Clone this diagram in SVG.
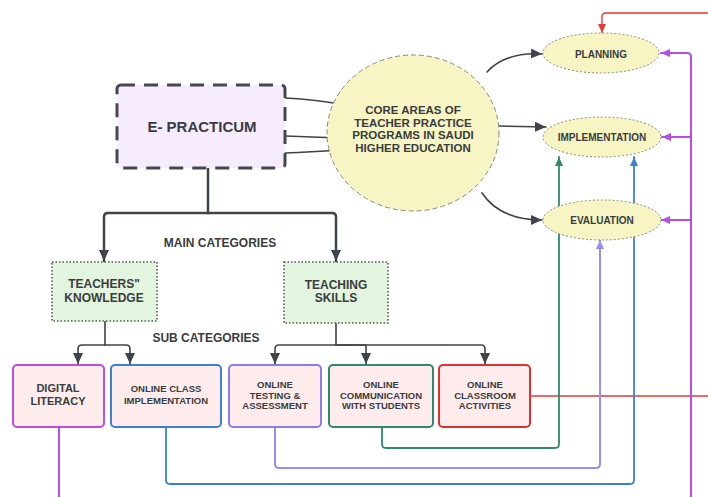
<svg xmlns="http://www.w3.org/2000/svg" width="708" height="497" viewBox="0 0 708 497">
<style>
text{font-family:"Liberation Sans","DejaVu Sans",sans-serif;font-weight:bold;fill:#3a3c40;text-anchor:middle;dominant-baseline:central}
.c{fill:none;stroke-linejoin:round;stroke-linecap:round}
.dk{stroke:#3f434a;stroke-width:2.5}
.dk2{stroke:#3f434a;stroke-width:1.6}
.red{stroke:#e53935;stroke-width:1.4}
.pur{stroke:#b44ee6;stroke-width:2}
.teal{stroke:#2e8a6e;stroke-width:1.8}
.blue{stroke:#3b7fd8;stroke-width:1.8}
.lav{stroke:#9a8cf5;stroke-width:2}
.sub{fill:#fdeceb;stroke-width:2}
.ell{fill:#f7f5c3;stroke:#8a8a7a;stroke-width:1;stroke-dasharray:2 2}
.grn{fill:#e3f4df;stroke:#555;stroke-width:1.6;stroke-dasharray:1.5 2}
.t9{font-size:9.5px}
.t10{font-size:10px}
.t11{font-size:11px}
.t12{font-size:12px}
.core{font-size:11.5px}
</style>
<defs>
<marker id="aD" markerUnits="userSpaceOnUse" markerWidth="12" markerHeight="12" viewBox="0 0 12 12" refX="11" refY="6" orient="auto"><path d="M0,1 L11,6 L0,11 Z" fill="#3f434a"/></marker>
<marker id="aR" markerUnits="userSpaceOnUse" markerWidth="10" markerHeight="10" viewBox="0 0 10 10" refX="9" refY="5" orient="auto"><path d="M0,1 L9,5 L0,9 Z" fill="#e53935"/></marker>
<marker id="aP" markerUnits="userSpaceOnUse" markerWidth="10" markerHeight="10" viewBox="0 0 10 10" refX="9" refY="5" orient="auto"><path d="M0,1 L9,5 L0,9 Z" fill="#b44ee6"/></marker>
<marker id="aT" markerUnits="userSpaceOnUse" markerWidth="10" markerHeight="10" viewBox="0 0 10 10" refX="9" refY="5" orient="auto"><path d="M0,1 L9,5 L0,9 Z" fill="#2e8a6e"/></marker>
<marker id="aB" markerUnits="userSpaceOnUse" markerWidth="10" markerHeight="10" viewBox="0 0 10 10" refX="9" refY="5" orient="auto"><path d="M0,1 L9,5 L0,9 Z" fill="#3b7fd8"/></marker>
<marker id="aL" markerUnits="userSpaceOnUse" markerWidth="10" markerHeight="10" viewBox="0 0 10 10" refX="9" refY="5" orient="auto"><path d="M0,1 L9,5 L0,9 Z" fill="#9a8cf5"/></marker>
</defs>
<rect width="708" height="497" fill="#ffffff"/>

<g id="connectors">
<path class="c dk2" d="M285,98 Q310,99 340,104"/>
<path class="c dk2" d="M285,136 L340,138"/>
<path class="c dk2" d="M285,153 Q310,152 340,150"/>
<path class="c dk2" d="M487,72 Q505,52 542,54" marker-end="url(#aD)"/>
<path class="c dk2" d="M499,126 L546,127" marker-end="url(#aD)"/>
<path class="c dk2" d="M482,193 Q500,220 542,220" marker-end="url(#aD)"/>
<path class="c dk" d="M208,168 V213"/>
<path class="c dk" d="M208,213 H108 Q104,213 104,217 V261" marker-end="url(#aD)"/>
<path class="c dk" d="M208,213 H332 Q336,213 336,217 V261" marker-end="url(#aD)"/>
<path class="c dk2" d="M105,321 V345"/>
<path class="c dk2" d="M105,345 H82 Q78,345 78,349 V364" marker-end="url(#aD)"/>
<path class="c dk2" d="M105,345 H126 Q130,345 130,349 V364" marker-end="url(#aD)"/>
<path class="c dk2" d="M336,323 V345"/>
<path class="c dk2" d="M336,345 H279 Q275,345 275,349 V364" marker-end="url(#aD)"/>
<path class="c dk2" d="M336,345 H366 V364" marker-end="url(#aD)"/>
<path class="c dk2" d="M336,345 H481 Q485,345 485,349 V364" marker-end="url(#aD)"/>
<path class="c red" d="M708,13 H606 Q602,13 602,17 V33" marker-end="url(#aR)"/>
<path class="c red" d="M530,396 H708"/>
<path class="c pur" d="M691,497 V57 Q691,53 687,53 H661" marker-end="url(#aP)"/>
<path class="c pur" d="M691,137 H662" marker-end="url(#aP)"/>
<path class="c pur" d="M691,220 H661" marker-end="url(#aP)"/>
<path class="c pur" d="M59,427 V497"/>
<path class="c teal" d="M382,427 V444 Q382,448 386,448 H555 Q559,448 559,444 V157" marker-end="url(#aT)"/>
<path class="c blue" d="M166,427 V480 Q166,484 170,484 H630 Q634,484 634,480 V157" marker-end="url(#aB)"/>
<path class="c lav" d="M275,427 V464 Q275,468 279,468 H596 Q600,468 600,464 V240" marker-end="url(#aL)"/>
</g>

<g id="e-practicum">
<rect x="117" y="85" width="168" height="83" rx="4" fill="#f6ecfd" stroke="#45484e" stroke-width="3" stroke-dasharray="14 9"/>
<text x="202" y="126" style="font-size:15px">E- PRACTICUM</text>
</g>

<g id="core-areas">
<ellipse cx="413" cy="133" rx="86" ry="78" class="ell" style="stroke-dasharray:5 3"/>
<text x="413" y="110" class="core">CORE AREAS OF</text>
<text x="413" y="122.5" class="core">TEACHER PRACTICE</text>
<text x="413" y="135" class="core">PROGRAMS IN SAUDI</text>
<text x="413" y="147.5" class="core">HIGHER EDUCATION</text>
</g>

<g id="planning">
<ellipse cx="601" cy="53" rx="58" ry="20" class="ell"/>
<text x="601" y="54" class="t10">PLANNING</text>
</g>
<g id="implementation">
<ellipse cx="602" cy="137" rx="59" ry="20" class="ell"/>
<text x="602" y="137" class="t10">IMPLEMENTATION</text>
</g>
<g id="evaluation">
<ellipse cx="602" cy="220" rx="59" ry="20" class="ell"/>
<text x="602" y="220" class="t10">EVALUATION</text>
</g>

<g id="label-main">
<text x="220" y="243" class="t12">MAIN CATEGORIES</text>
</g>
<g id="label-sub">
<text x="206" y="338" class="t12">SUB CATEGORIES</text>
</g>

<g id="teachers-knowledge">
<rect x="52" y="262" width="105" height="59" class="grn"/>
<text x="104" y="284" class="t12">TEACHERS"</text>
<text x="104" y="298" class="t12">KNOWLEDGE</text>
</g>
<g id="teaching-skills">
<rect x="284" y="262" width="104" height="61" class="grn"/>
<text x="336" y="285" class="t12">TEACHING</text>
<text x="336" y="298" class="t12">SKILLS</text>
</g>

<g id="digital-literacy">
<rect x="13" y="365" width="91" height="62" rx="4" class="sub" stroke="#c04ce0"/>
<text x="58" y="388" class="t11">DIGITAL</text>
<text x="58" y="401" class="t11">LITERACY</text>
</g>
<g id="online-class">
<rect x="111" y="365" width="110" height="62" rx="4" class="sub" stroke="#3b7fd8"/>
<text x="166" y="388.5" class="t9">ONLINE CLASS</text>
<text x="166" y="400" class="t9">IMPLEMENTATION</text>
</g>
<g id="online-testing">
<rect x="229" y="365" width="92" height="62" rx="4" class="sub" stroke="#8a7bf0"/>
<text x="275" y="384.5" class="t9">ONLINE</text>
<text x="275" y="395" class="t9">TESTING &amp;</text>
<text x="275" y="405.5" class="t9">ASSESSMENT</text>
</g>
<g id="online-communication">
<rect x="329" y="365" width="104" height="62" rx="4" class="sub" stroke="#2e8a6e"/>
<text x="381" y="384.5" class="t9">ONLINE</text>
<text x="381" y="395" class="t9">COMMUNICATION</text>
<text x="381" y="405.5" class="t9">WITH STUDENTS</text>
</g>
<g id="online-classroom">
<rect x="439" y="365" width="91" height="62" rx="4" class="sub" stroke="#e03030"/>
<text x="485" y="384.5" class="t9">ONLINE</text>
<text x="485" y="395" class="t9">CLASSROOM</text>
<text x="485" y="405.5" class="t9">ACTIVITIES</text>
</g>
</svg>
